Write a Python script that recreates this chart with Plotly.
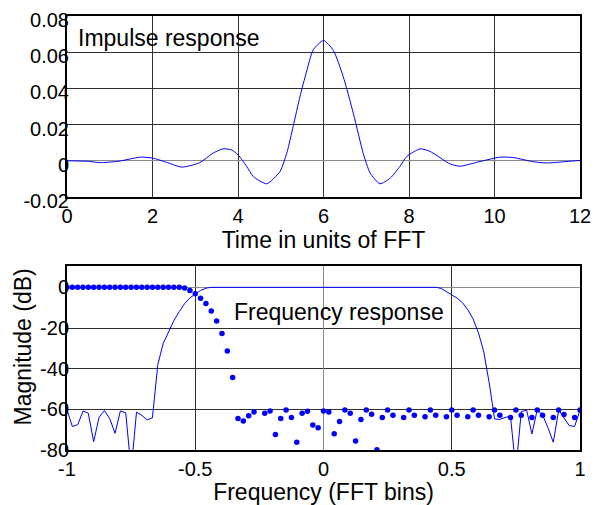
import plotly.graph_objects as go

# ---------------- data ----------------
# Impulse response (time in units of FFT length)
ir_time = [0.0, 0.5, 0.77, 1.2, 1.71, 2.0, 2.35, 2.68, 3.11, 3.4, 3.65, 3.85, 4.0,
           4.2, 4.36, 4.67, 4.98, 5.15, 5.29, 5.45, 5.6, 5.76, 6.0, 6.23, 6.46, 6.7,
           6.93, 7.09, 7.32, 7.56, 7.79, 7.95, 8.26, 8.49, 8.96, 9.19, 9.66, 10.13,
           10.44, 10.9, 11.22, 11.69, 12.0]
ir_value = [0.0, -0.0003, -0.001, -0.0003, 0.002, 0.0015, -0.001, -0.0035, -0.001, 0.004,
            0.0066, 0.006, 0.0033, -0.003, -0.0087, -0.0127, -0.006, 0.005, 0.019, 0.0355,
            0.049, 0.0613, 0.0665, 0.061, 0.0466, 0.026, 0.004, -0.0067, -0.0127, -0.0096,
            -0.003, 0.0024, 0.0066, 0.0052, -0.0017, -0.003, -0.0004, 0.002, 0.0018,
            -0.0005, -0.0012, -0.0004, 0.0002]

# Frequency response (solid line), frequency in FFT bins
line_freq = [-1.0, -0.979, -0.958, -0.9375, -0.917, -0.896, -0.875, -0.854, -0.833, -0.8125,
             -0.792, -0.771, -0.75, -0.729, -0.708, -0.6875, -0.667, -0.646, -0.625, -0.604,
             -0.583, -0.5625, -0.542, -0.521, -0.5, -0.479, -0.458, -0.4375, 0.4375, 0.458,
             0.479, 0.5, 0.521, 0.542, 0.5625, 0.583, 0.604, 0.625, 0.646, 0.667, 0.6875,
             0.708, 0.729, 0.75, 0.771, 0.792, 0.8125, 0.833, 0.854, 0.875, 0.896, 0.917,
             0.9375, 0.958, 0.979, 1.0]
line_db = [-60.3, -68.5, -67.5, -60.8, -61.9, -75.9, -63.9, -60.6, -64.7, -71.8,
           -60.8, -61.7, -90.0, -61.4, -63.0, -65.2, -64.2, -38.0, -27.6, -21.5,
           -16.3, -12.0, -8.1, -5.2, -3.2, -1.5, -0.4, 0.0, 0.0, -0.5,
           -2.1, -3.8, -5.3, -7.6, -11.0, -15.5, -22.3, -31.8, -47.0, -64.7, -65.0,
           -64.0, -63.4, -90.0, -61.1, -60.4, -72.1, -60.4, -62.7, -69.0, -76.2, -60.3,
           -63.9, -68.0, -68.4, -60.3]

# Frequency response samples (dots), bins k/48 for k = -48..48
dot_bin = list(range(-48, 49))
dot_db = [0.0] * 22 + [
    -0.3, -1.6, -3.1, -5.4, -7.9, -11.7, -16.5, -22.7, -31.3, -44.4,      # k=-26..-17
    -64.5, -65.7, -63.1, -61.3, -95.0, -61.9, -60.8, -72.4, -64.5, -60.3,  # k=-16..-7
    -64.0, -76.2, -61.9, -60.9, -67.7, -69.0, -60.8, -61.3, -72.0, -66.0,  # k=-6..3
    -60.3, -61.9, -75.6, -65.0, -60.3, -62.4, -79.9, -64.0, -60.3, -62.9,  # k=4..13
    -95.0, -64.0, -60.3, -62.9, -95.0, -63.6, -60.3, -62.9, -95.0, -63.6,  # k=14..23
    -60.3, -62.9, -95.0, -63.7, -60.3, -62.9, -95.0, -63.7, -60.3, -62.9,  # k=24..33
    -95.0, -64.0, -60.3, -62.9, -95.0, -64.0, -60.3, -62.9, -95.0, -64.0,  # k=34..43
    -60.3, -62.6, -95.0, -64.0, -60.3]                                    # k=44..48
dot_freq = [k / 48 for k in dot_bin]

top_xticks = [0, 2, 4, 6, 8, 10, 12]
top_xtext = ["0", "2", "4", "6", "8", "10", "12"]
top_yticks = [-0.02, 0, 0.02, 0.04, 0.06, 0.08]
top_ytext = ["-0.02", "0", "0.02", "0.04", "0.06", "0.08"]
bot_xticks = [-1, -0.5, 0, 0.5, 1]
bot_xtext = ["-1", "-0.5", "0", "0.5", "1"]
bot_yticks = [-80, -60, -40, -20, 0]
bot_ytext = ["-80", "-60", "-40", "-20", "0"]

# ---------------- figure ----------------
FONT = "Liberation Sans, Arial, Helvetica, sans-serif"
BLUE = "#0000ff"
GRID = "#303030"
ZERO = "#8a8a8a"

fig = go.Figure()
fig.add_trace(go.Scatter(x=ir_time, y=ir_value, mode="lines",
                         line=dict(color=BLUE, width=1, shape="spline", smoothing=0.6),
                         xaxis="x", yaxis="y", showlegend=False))
fig.add_trace(go.Scatter(x=line_freq, y=line_db, mode="lines",
                         line=dict(color=BLUE, width=1), xaxis="x2", yaxis="y2",
                         showlegend=False))
fig.add_trace(go.Scatter(x=dot_freq, y=dot_db, mode="markers",
                         marker=dict(color=BLUE, size=5.5), xaxis="x2", yaxis="y2",
                         showlegend=False))

axis_common = dict(showgrid=True, gridcolor=GRID, gridwidth=1,
                   showline=True, linecolor="black", linewidth=2, mirror=True,
                   ticks="", tickfont=dict(size=20, color="black", family=FONT),
                   zeroline=True, zerolinecolor=ZERO, zerolinewidth=1,
                   automargin=False, ticklabeloverflow="allow")

# page body adds an 8px offset; the figure is sized so the plot lands where the reference has it
fig.update_layout(
    width=597, height=497,
    margin=dict(l=59, r=25, t=8, b=55),
    paper_bgcolor="white", plot_bgcolor="white",
    font=dict(family=FONT, color="black"),
    xaxis=dict(domain=[0, 1], anchor="y", range=[0, 12],
               tickvals=top_xticks, ticktext=top_xtext,
               title=dict(text="Time in units of FFT", font=dict(size=23), standoff=4),
               **axis_common),
    yaxis=dict(domain=[0.583, 1], anchor="x", range=[-0.02, 0.08],
               tickvals=top_yticks, ticktext=top_ytext,
               ticklabelstandoff=-8, ticklabelshift=4, **axis_common),
    xaxis2=dict(domain=[0, 1], anchor="y2", range=[-1, 1],
                tickvals=bot_xticks, ticktext=bot_xtext,
                title=dict(text="Frequency (FFT bins)", font=dict(size=23), standoff=3),
                **axis_common),
    yaxis2=dict(domain=[0, 0.424], anchor="x2", range=[-80, 10.5],
                tickvals=bot_yticks, ticktext=bot_ytext,
                ticklabelstandoff=-8, **axis_common),
    annotations=[
        dict(text="Impulse response", x=0.22, y=0.068, xref="x", yref="y",
             xanchor="left", yanchor="middle", showarrow=False,
             font=dict(size=23, family=FONT, color="black")),
        dict(text="Frequency response", x=-0.355, y=-12.2, xref="x2", yref="y2",
             xanchor="left", yanchor="middle", showarrow=False,
             font=dict(size=23, family=FONT, color="black")),
        dict(text="Magnitude (dB)", x=-0.0848, y=0.2373, xref="paper", yref="paper",
             xanchor="center", yanchor="middle", textangle=-90, showarrow=False,
             font=dict(size=23, family=FONT, color="black")),
    ],
)

fig.write_html("out.html")
